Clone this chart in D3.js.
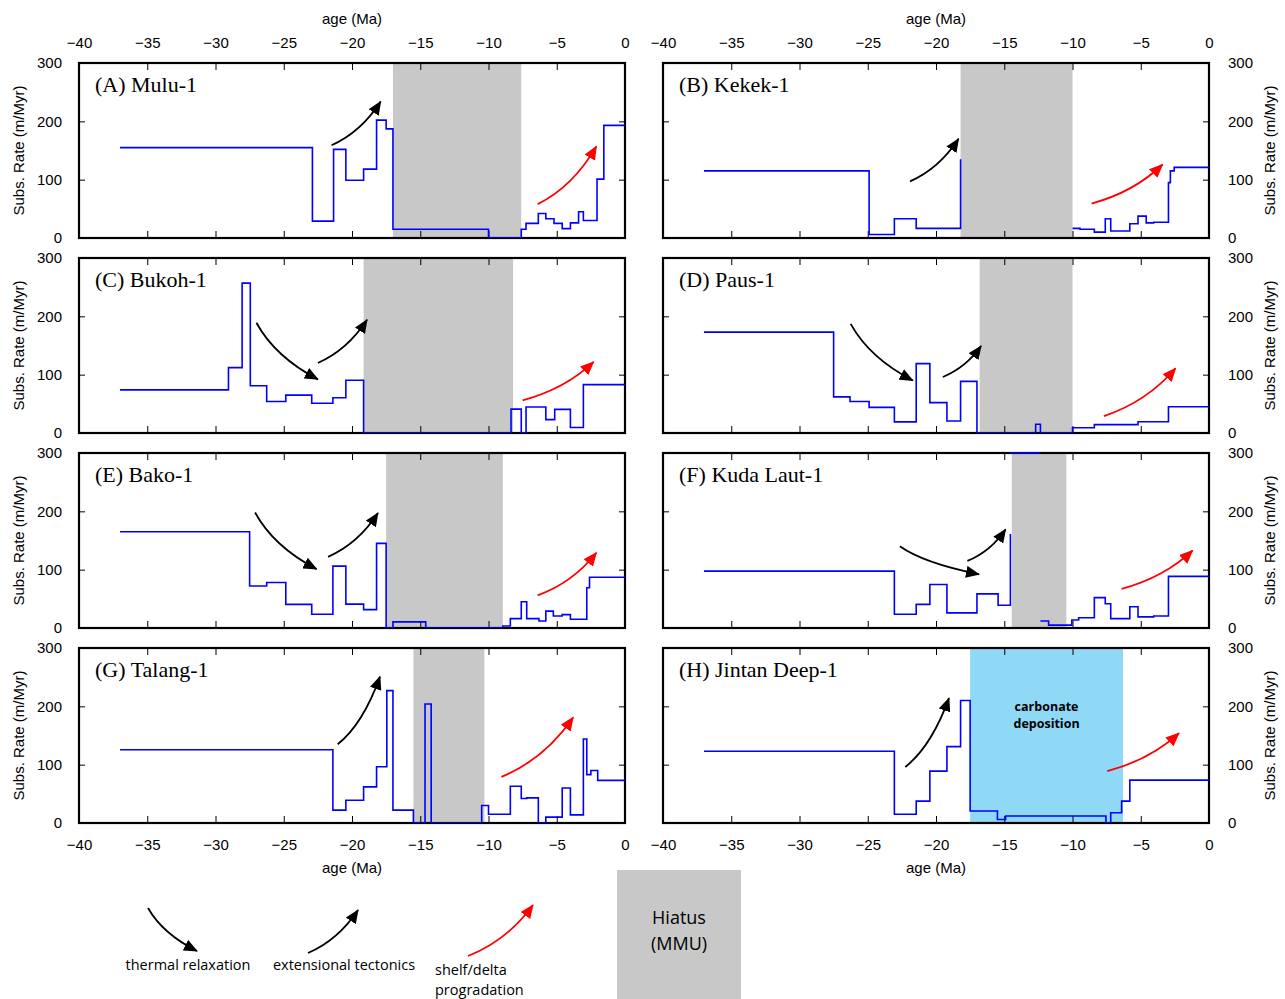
<!DOCTYPE html>
<html>
<head>
<meta charset="utf-8">
<script src="https://cdn.jsdelivr.net/npm/d3@7"></script>
<style>
  body { margin: 0; background: #fff; }
  svg { display: block; }
  .axis text { font-family: "Liberation Sans", Arial, sans-serif; font-size: 15px; fill: #000; }
  .axis line { stroke: #000; stroke-width: 1; }
  .lbl { font-family: "Liberation Sans", Arial, sans-serif; font-size: 15px; fill: #000; }
  .title { font-family: "Liberation Serif", "Times New Roman", serif; font-size: 22px; fill: #000; }
  .legend { font-family: "Open Sans", "Liberation Sans", sans-serif; font-size: 14.5px; fill: #000; }
</style>
</head>
<body>
<svg id="chart" width="1285" height="999"></svg>
<script>
(function() {

// ticks
var ageTicks = [-40, -35, -30, -25, -20, -15, -10, -5, 0];
var rateTicks = [0, 100, 200, 300];

var wellNames = ['(A) Mulu-1', '(B) Kekek-1', '(C) Bukoh-1', '(D) Paus-1',
                 '(E) Bako-1', '(F) Kuda Laut-1', '(G) Talang-1', '(H) Jintan Deep-1'];

// subsidence rate steps: [age at start of step (Ma), rate (m/Myr)], null = gap
var muluRate = [[-37, 155], [-22.9, 29], [-21.35, 152], [-20.45, 99], [-19.15, 118],
    [-18.2, 202], [-17.5, 187], [-17, 15], [-10, 0], [-7.6, 15], [-7.25, 25],
    [-6.35, 42], [-5.8, 33], [-5.2, 25], [-4.6, 16], [-4, 26], [-3.4, 45],
    [-3.05, 30], [-2.05, 101], [-1.55, 193]];

var kekekRate = [[-37, 115], [-24.9, 6], [-23.05, 33], [-21.45, 16.5], [-18.2, 135],
    [-18.2, null], [-10, 16.5], [-9.45, 15], [-8.4, 10], [-7.6, 33], [-7.2, 12],
    [-5.8, 24.5], [-5.2, 37.5], [-4.6, 26], [-4.05, 27], [-2.97, 95],
    [-2.83, 115], [-2.55, 121]];

var bukohRate = [[-37, 74], [-29.05, 112], [-28.05, 257], [-27.45, 81], [-26.25, 54],
    [-24.85, 65], [-22.95, 51], [-21.4, 60.5], [-20.45, 90.5], [-19.15, 0],
    [-8.35, 41], [-7.6, 0], [-7.25, 44.5], [-5.8, 23], [-5.15, 40.5], [-4, 9.5],
    [-3.05, 83]];

var pausRate = [[-37, 173], [-27.5, 62], [-26.3, 54], [-24.9, 44], [-23.05, 19],
    [-21.45, 119], [-20.45, 52], [-19.2, 20.5], [-18.2, 88.5], [-17, 0],
    [-12.7, 15], [-12.35, 0], [-10, 9], [-8.4, 14.3], [-5.2, 19.4], [-2.97, 45]];

var bakoRate = [[-37, 165], [-27.5, 72], [-26.25, 78], [-24.85, 40.5], [-22.95, 23.5],
    [-21.4, 106], [-20.45, 41], [-19.15, 31.5], [-18.2, 145], [-17.5, 0],
    [-17, 10.5], [-14.6, 0], [-8.95, 3.5], [-8.4, 16], [-7.6, 45], [-7.2, 16],
    [-6.3, 12], [-5.8, 29], [-5.25, 20.5], [-4.6, 23], [-4, 15], [-2.8, 69],
    [-2.6, 87]];

var kudaRate = [[-37, 97.5], [-23.05, 23.5], [-21.45, 40.5], [-20.45, 74.5],
    [-19.2, 26], [-17, 58.5], [-15.45, 39], [-14.55, 161], [-14.55, null],
    [-14.55, 300], [-12.35, 300], [-12.35, null], [-12.35, 12], [-11.75, 5],
    [-10.05, 13.7], [-9.55, 17.7], [-8.4, 52], [-7.6, 41.6], [-7.2, 16],
    [-5.8, 36.5], [-5.2, 19], [-4.05, 20.5], [-2.97, 88.5]];

var talangRate = [[-37, 125.5], [-21.4, 22], [-20.45, 39], [-19.15, 62], [-18.2, 96.5],
    [-17.45, 227], [-17, 22], [-15.5, 0], [-14.65, 204], [-14.2, 0], [-10.5, 30],
    [-10, 15], [-8.4, 63], [-7.6, 42], [-7.2, 43], [-6.35, 0], [-5.8, 10],
    [-4.6, 60], [-4, 14], [-3.05, 144], [-2.8, 83], [-2.5, 90], [-2, 73]];

var jintanRate = [[-37, 123], [-23.05, 15], [-21.45, 37.5], [-20.45, 89], [-19.2, 131],
    [-18.2, 210], [-17.5, 20.5], [-15.5, 6], [-14.9, 12], [-7.55, 0], [-7.2, 17.5],
    [-6.4, 37.5], [-5.8, 73.5]];

// hiatus / carbonate intervals [start, end] (Ma)
var muluHiatus = [-17, -7.6];
var kekekHiatus = [-18.2, -10];
var bukohHiatus = [-19.15, -8.2];
var pausHiatus = [-16.8, -10];
var bakoHiatus = [-17.5, -8.95];
var kudaHiatus = [-14.45, -10.45];
var talangHiatus = [-15.5, -10.3];
var jintanCarbonate = [-17.5, -6.3];

// arrows: [kind, age0, rate0, age1, rate1]
var muluArrows = [['up', -21.5, 159, -17.9, 234], ['red', -6.4, 58, -2.1, 157]];
var kekekArrows = [['up', -21.9, 97, -18.35, 170], ['red', -8.6, 59, -3.4, 126]];
var bukohArrows = [['down', -27, 189, -22.5, 92], ['up', -22.5, 120, -18.9, 194],
                   ['red', -7.5, 56, -2.3, 122]];
var pausArrows = [['down', -26.25, 187, -21.7, 90], ['up', -19.5, 96, -16.7, 149],
                  ['red', -7.7, 29, -2.45, 111]];
var bakoArrows = [['down', -27.1, 198, -22.6, 101], ['up', -21.75, 122, -18.1, 197],
                  ['red', -6.4, 56, -2.1, 129]];
var kudaArrows = [['down', -22.65, 140, -16.85, 92], ['up', -17.7, 115, -14.9, 169],
                  ['red', -6.4, 67, -1.2, 133]];
var talangArrows = [['up', -21.05, 135, -17.95, 251], ['red', -9.05, 79, -3.8, 181]];
var jintanArrows = [['up', -22.25, 96, -19.05, 214], ['red', -7.45, 89, -2.2, 154]];

var svg = d3.select('#chart');

var colLeft = [79, 663], plotW = 546,
    rowTop = [63, 258, 453, 648], plotH = 175;

var panels = [
    {name: wellNames[0], rate: muluRate, band: muluHiatus, arrows: muluArrows},
    {name: wellNames[1], rate: kekekRate, band: kekekHiatus, arrows: kekekArrows},
    {name: wellNames[2], rate: bukohRate, band: bukohHiatus, arrows: bukohArrows},
    {name: wellNames[3], rate: pausRate, band: pausHiatus, arrows: pausArrows},
    {name: wellNames[4], rate: bakoRate, band: bakoHiatus, arrows: bakoArrows},
    {name: wellNames[5], rate: kudaRate, band: kudaHiatus, arrows: kudaArrows},
    {name: wellNames[6], rate: talangRate, band: talangHiatus, arrows: talangArrows},
    {name: wellNames[7], rate: jintanRate, band: jintanCarbonate, arrows: jintanArrows, carbonate: true}
];

var defs = svg.append('defs');
[['head-black', '#000'], ['head-red', '#ff0000']].forEach(function(m) {
    defs.append('marker')
        .attr('id', m[0])
        .attr('markerUnits', 'userSpaceOnUse')
        .attr('markerWidth', 14).attr('markerHeight', 12)
        .attr('refX', 13).attr('refY', 6)
        .attr('orient', 'auto')
      .append('path')
        .attr('d', 'M0,0 L14,6 L0,12 Z')
        .attr('fill', m[1]);
});

// quadratic curve between two pixel points, bent like the hand-drawn arrows
function arrowPath(kind, x0, y0, x1, y1) {
    var dx = x1 - x0, dy = y1 - y0, cx, cy;
    if (kind === 'down') {
        cx = x0 + 0.3 * dx; cy = y0 + 0.6 * dy;
    } else {
        cx = x0 + 0.6 * dx; cy = y0 + 0.3 * dy;
    }
    return 'M' + x0 + ',' + y0 + ' Q' + cx + ',' + cy + ' ' + x1 + ',' + y1;
}

function drawArrow(g, kind, x0, y0, x1, y1) {
    var red = kind === 'red';
    g.append('path')
        .attr('d', arrowPath(red ? 'up' : kind, x0, y0, x1, y1))
        .attr('fill', 'none')
        .attr('stroke', red ? '#ff0000' : '#000')
        .attr('stroke-width', 1.8)
        .attr('marker-end', red ? 'url(#head-red)' : 'url(#head-black)');
}

panels.forEach(function(p, i) {
    var col = i % 2, row = Math.floor(i / 2);
    var left = colLeft[col], top = rowTop[row];

    var x = d3.scaleLinear().domain([-40, 0]).range([0, plotW]);
    var y = d3.scaleLinear().domain([0, 300]).range([plotH, 0]);

    var g = svg.append('g')
        .attr('transform', 'translate(' + left + ',' + top + ')');

    defs.append('clipPath').attr('id', 'clip' + i)
      .append('rect')
        .attr('x', 0).attr('y', -2).attr('width', plotW).attr('height', plotH + 2);

    // hiatus or carbonate band
    g.append('rect')
        .attr('x', x(p.band[0]))
        .attr('y', 0)
        .attr('width', x(p.band[1]) - x(p.band[0]))
        .attr('height', plotH)
        .attr('fill', p.carbonate ? '#8fd9f7' : '#c8c8c8');

    if (p.carbonate) {
        var mid = (p.band[0] + p.band[1]) / 2;
        g.append('text')
            .attr('x', x(mid)).attr('y', y(200))
            .attr('text-anchor', 'middle')
            .attr('dy', '0.35em')
            .style('font-family', '"Open Sans", sans-serif')
            .style('font-weight', 'bold')
            .style('font-size', '12.5px')
            .text('carbonate');
        g.append('text')
            .attr('x', x(mid)).attr('y', y(171))
            .attr('text-anchor', 'middle')
            .attr('dy', '0.35em')
            .style('font-family', '"Open Sans", sans-serif')
            .style('font-weight', 'bold')
            .style('font-size', '12.5px')
            .text('deposition');
    }

    // inward ticks on all four sides
    var showTop = row === 0, showBottom = row === 3;
    g.append('g').attr('class', 'axis')
        .attr('transform', 'translate(0,' + plotH + ')')
        .call(d3.axisBottom(x).tickValues(ageTicks).tickSize(-7).tickPadding(16)
            .tickFormat(showBottom ? null : ''))
        .select('.domain').remove();
    g.append('g').attr('class', 'axis')
        .call(d3.axisTop(x).tickValues(ageTicks).tickSize(-7).tickPadding(15)
            .tickFormat(showTop ? null : ''))
        .select('.domain').remove();
    g.append('g').attr('class', 'axis')
        .call(d3.axisLeft(y).tickValues(rateTicks).tickSize(-6).tickPadding(17)
            .tickFormat(col === 0 ? null : ''))
        .select('.domain').remove();
    g.append('g').attr('class', 'axis')
        .attr('transform', 'translate(' + plotW + ',0)')
        .call(d3.axisRight(y).tickValues(rateTicks).tickSize(-6).tickPadding(19)
            .tickFormat(col === 1 ? null : ''))
        .select('.domain').remove();

    g.append('rect')
        .attr('width', plotW).attr('height', plotH)
        .attr('fill', 'none')
        .attr('stroke', '#000')
        .attr('stroke-width', 2.2);

    // close the last step at present day
    var pts = p.rate.concat([[0, p.rate[p.rate.length - 1][1]]]);
    var line = d3.line()
        .defined(function(d) { return d[1] !== null; })
        .x(function(d) { return x(d[0]); })
        .y(function(d) { return y(d[1]); })
        .curve(d3.curveStepAfter);

    g.append('path')
        .datum(pts)
        .attr('clip-path', 'url(#clip' + i + ')')
        .attr('d', line)
        .attr('fill', 'none')
        .attr('stroke', '#0000ff')
        .attr('stroke-width', 1.6);

    p.arrows.forEach(function(a) {
        drawArrow(g, a[0], x(a[1]), y(a[2]), x(a[3]), y(a[4]));
    });

    g.append('text')
        .attr('class', 'title')
        .attr('x', 16).attr('y', 29)
        .text(p.name);

    // y label
    var lx = col === 0 ? 19 : 1270;
    svg.append('text')
        .attr('class', 'lbl')
        .attr('transform', 'translate(' + lx + ',' + (top + plotH / 2) + ') rotate(-90)')
        .attr('text-anchor', 'middle')
        .attr('dy', '0.35em')
        .text('Subs. Rate (m/Myr)');
});

// x labels
colLeft.forEach(function(left) {
    svg.append('text').attr('class', 'lbl')
        .attr('x', left + plotW / 2).attr('y', 24)
        .attr('text-anchor', 'middle')
        .text('age (Ma)');
    svg.append('text').attr('class', 'lbl')
        .attr('x', left + plotW / 2).attr('y', 873)
        .attr('text-anchor', 'middle')
        .text('age (Ma)');
});

// legend
var lg = svg.append('g');
drawArrow(lg, 'down', 148, 908, 197, 951);
drawArrow(lg, 'up', 308, 953, 358, 910);
drawArrow(lg, 'red', 468, 956, 533, 905);

lg.append('text').attr('class', 'legend')
    .attr('x', 188).attr('y', 970).attr('text-anchor', 'middle')
    .text('thermal relaxation');
lg.append('text').attr('class', 'legend')
    .attr('x', 344).attr('y', 970).attr('text-anchor', 'middle')
    .text('extensional tectonics');
lg.append('text').attr('class', 'legend')
    .attr('x', 435).attr('y', 975)
    .text('shelf/delta');
lg.append('text').attr('class', 'legend')
    .attr('x', 435).attr('y', 995)
    .text('progradation');

lg.append('rect')
    .attr('x', 617).attr('y', 870)
    .attr('width', 124).attr('height', 129)
    .attr('fill', '#c8c8c8');
lg.append('text').attr('class', 'legend')
    .attr('x', 679).attr('y', 924).attr('text-anchor', 'middle')
    .style('font-size', '18px')
    .text('Hiatus');
lg.append('text').attr('class', 'legend')
    .attr('x', 679).attr('y', 950).attr('text-anchor', 'middle')
    .style('font-size', '18px')
    .text('(MMU)');

})();
</script>
</body>
</html>
